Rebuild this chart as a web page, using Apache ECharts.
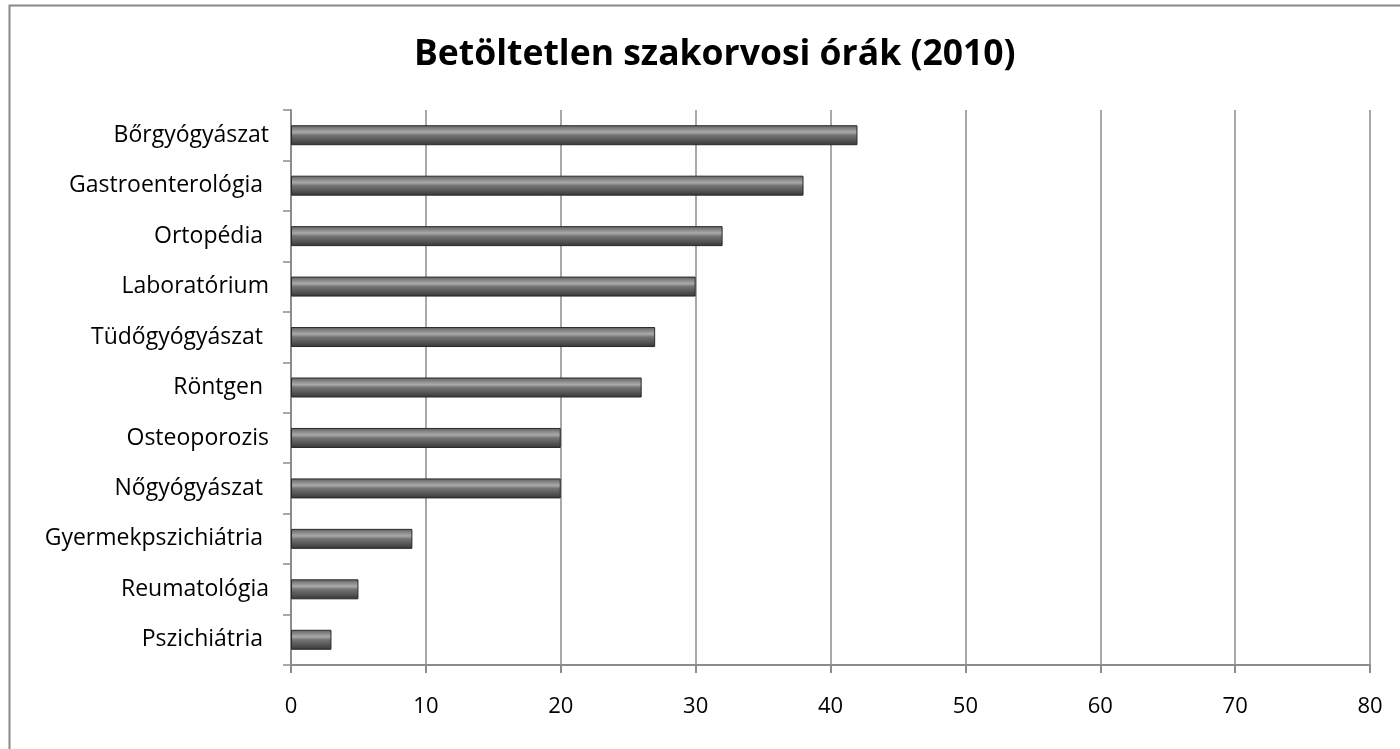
<!DOCTYPE html>
<html><head><meta charset="utf-8">
<script src="https://cdn.jsdelivr.net/npm/echarts@6/dist/echarts.min.js"></script>
<style>html,body{margin:0;padding:0;background:#fff}#c{width:1400px;height:749px}</style>
</head><body><div id="c"></div>
<script>
const categories = ["Bőrgyógyászat", "Gastroenterológia ", "Ortopédia ", "Laboratórium", "Tüdőgyógyászat ", "Röntgen ", "Osteoporozis", "Nőgyógyászat ", "Gyermekpszichiátria ", "Reumatológia", "Pszichiátria "];
const values = [42, 38, 32, 30, 27, 26, 20, 20, 9, 5, 3];
const xTicks = [0, 10, 20, 30, 40, 50, 60, 70, 80];

const chart = echarts.init(document.getElementById('c'), null, {renderer: 'canvas'});
const font = '"Open Sans", sans-serif';
chart.setOption({
  animation: false,
  title: {text: 'Betöltetlen szakorvosi órák (2010)', left: 409, top: 32,
    textStyle: {fontFamily: font, fontSize: 35.5, fontWeight: 'bold', color: '#000'}},
  graphic: [{type: 'rect', shape: {x: 9.5, y: 5.5, width: 1420, height: 780}, style: {fill: 'none', stroke: '#888', lineWidth: 2}, silent: true, z: -1}],
  grid: {left: 291, right: 30, top: 110, bottom: 84, containLabel: false},
  xAxis: {type: 'value', min: 0, max: 80, interval: 10,
    axisLine: {show: true, lineStyle: {color: '#8c8c8c', width: 2}},
    axisTick: {show: true, length: 8, lineStyle: {color: '#8c8c8c', width: 2}},
    splitLine: {show: true, lineStyle: {color: '#8c8c8c', width: 1.5}},
    axisLabel: {color: '#000', fontFamily: font, fontSize: 22, margin: 31,
      formatter: v => xTicks.includes(v) ? String(v) : ''}},
  yAxis: {type: 'category', data: categories, inverse: true,
    axisLine: {show: true, lineStyle: {color: '#8c8c8c', width: 2}},
    axisTick: {show: true, length: 8, lineStyle: {color: '#8c8c8c', width: 1.5}},
    axisLabel: {color: '#000', fontFamily: font, fontSize: 23, margin: 22}},
  series: [{type: 'bar', data: values, barWidth: 20,
    itemStyle: {
      color: new echarts.graphic.LinearGradient(0, 0, 0, 1, [
        {offset: 0, color: '#5e5e5e'},
        {offset: 0.15, color: '#808080'},
        {offset: 0.35, color: '#aaaaaa'},
        {offset: 0.5, color: '#747474'},
        {offset: 0.8, color: '#505050'},
        {offset: 1, color: '#353535'}]),
      borderColor: '#2a2a2a', borderWidth: 1}
  }]
});
</script></body></html>
